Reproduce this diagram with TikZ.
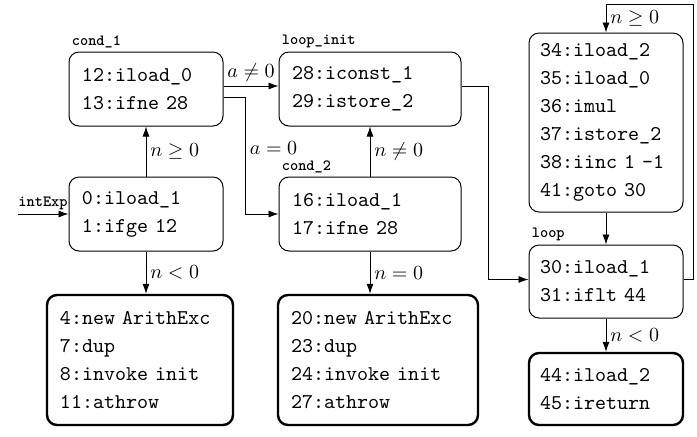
\documentclass[tikz,border=0pt]{standalone}
\usetikzlibrary{positioning,arrows.meta}
\begin{document}
\begin{tikzpicture}[x=0.5pt,y=-0.5pt,>={Latex[length=5pt,width=3.5pt]},
  block/.style={draw, rounded corners=5pt, line width=0.5pt, align=left,
    inner xsep=6.5pt, inner ysep=0pt, font=\fontsize{10.5}{14}\selectfont\ttfamily},
  exitblock/.style={block, line width=1.2pt},
  cond/.style={font=\normalsize, inner sep=2pt}]
\newcommand{\myfontlabel}[1]{
\fontsize{7.8}{9}\ttfamily\fontseries{b}\selectfont{#1}
}%Bounding box
\useasboundingbox (0,0) rectangle (697,436);
%Blocks of the left column
\node [block, text width=64pt, minimum height=37pt] (cond1) at (146,89) {12:iload\_0\\13:ifne 28};
\node [block, text width=64pt, minimum height=37pt] (entry) at (146,214) {0:iload\_1\\1:ifge 12};
\node [exitblock, text width=80pt, minimum height=65pt] (exc1) at (140,360) {4:new ArithExc\\7:dup\\8:invoke init\\11:athrow};
%Blocks of the middle column
\node [block, text width=78pt, minimum height=37pt] (init) at (370,89) {28:iconst\_1\\29:istore\_2};
\node [block, text width=78pt, minimum height=37pt] (cond2) at (370,214) {16:iload\_1\\17:ifne 28};
\node [exitblock, text width=87pt, minimum height=65pt] (exc2) at (378,360) {20:new ArithExc\\23:dup\\24:invoke init\\27:athrow};
%Blocks of the right column
\node [block, inner xsep=5.5pt, text width=66pt, minimum height=89.5pt] (body) at (606,122.5) {34:iload\_2\\35:iload\_0\\36:imul\\37:istore\_2\\38:iinc 1 -1\\41:goto 30};
\node [block, inner xsep=5.5pt, text width=66pt, minimum height=36.5pt] (loop) at (606,281.5) {30:iload\_1\\31:iflt 44};
\node [exitblock, inner xsep=5.5pt, text width=66pt, minimum height=36pt] (ret) at (606,389) {44:iload\_2\\45:ireturn};
%Names of the blocks
\node [above right, inner sep=1.5pt] at (cond1.north west) {\myfontlabel{cond\_1}};
\node [above right, inner sep=1.5pt] at (init.north west) {\myfontlabel{loop\_init}};
\node [above right, inner sep=1.5pt] at (cond2.north west) {\myfontlabel{cond\_2}};
\node [above right, inner sep=1.5pt] at (loop.north west) {\myfontlabel{loop}};
%Entry
\coordinate (start) at ([xshift=-25.5pt]entry.west);
\draw [->] (start) -- node [above, inner sep=2pt] {\myfontlabel{intExp}} (entry.west);
%Edges
\draw [->] (entry.north) -- node [cond, right] {$n \geq 0$} (cond1.south);
\draw [->] (entry.south) -- node [cond, right] {$n < 0$} (entry.south |- exc1.north);
\draw [->] ([yshift=1.5pt]cond1.east) -- node [cond, above] {$a \neq 0$} ([yshift=1.5pt]init.west);
\draw [->] ([yshift=-4pt]cond1.east) -- ++(11pt,0) |- node [cond, right, pos=0.22] {$a = 0$} (cond2.west);
\draw [->] (cond2.north) -- node [cond, right] {$n \neq 0$} (init.south);
\draw [->] (cond2.south) -- node [cond, right] {$n = 0$} (cond2.south |- exc2.north);
\draw [->] ([yshift=1.5pt]init.east) -- ++(13.5pt,0) |- ([yshift=1pt]loop.west);
\draw [->] ([yshift=1pt]loop.east) -- ++(5pt,0) |- ([yshift=14pt]body.north) -- node [cond, right] {$n \geq 0$} (body.north);
\draw [->] (body.south) -- (loop.north);
\draw [->] (loop.south) -- node [cond, right] {$n < 0$} (ret.north);
\end{tikzpicture}
\end{document}
